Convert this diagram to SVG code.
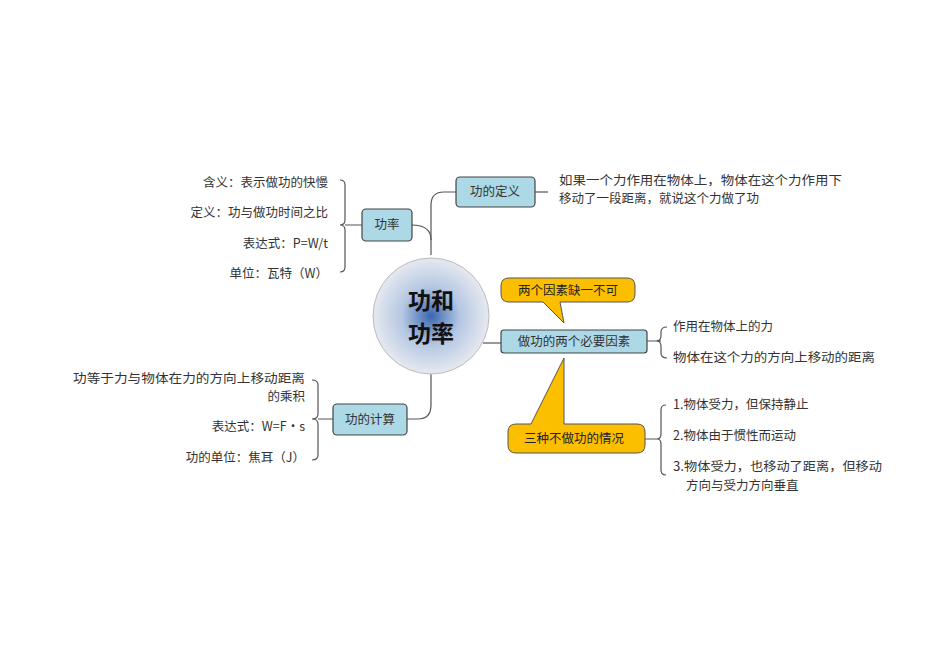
<svg xmlns="http://www.w3.org/2000/svg" width="950" height="672" viewBox="0 0 950 672">
<style>
text{font-family:"Noto Sans CJK SC","Liberation Sans",sans-serif;font-size:12.5px;fill:#333}
.box{fill:#add8e6;stroke:#444;stroke-width:1.2}
.call{fill:#fbbf00;stroke:#555;stroke-width:1}
.ln{fill:none;stroke:#555;stroke-width:1.2}
.r{text-anchor:end}
.c{text-anchor:middle}
</style>
<defs>
<radialGradient id="g" cx="0.5" cy="0.5" r="0.5">
<stop offset="0" stop-color="#3a66b0"/>
<stop offset="0.5" stop-color="#b5c7e2"/>
<stop offset="1" stop-color="#e6e9f0"/>
</radialGradient>
</defs>
<rect width="950" height="672" fill="#fff"/>
<g id="connectors">
<path class="ln" d="M431,255 V205 Q431,192 444,192 H456"/>
<path class="ln" d="M412,225 Q431,225 431,240"/>
<path class="ln" d="M431,371 V405 Q431,419 418,419 H407"/>
<path class="ln" d="M483,343 H501"/>
<path class="ln" d="M535,192 H548"/>
<path class="ln" d="M362,225 H345 M340,180 Q345,180 345,185 V220 Q345,225 340,225 Q345,225 345,230 V267 Q345,272 340,272"/>
<path class="ln" d="M333,419 H318 M312,380 Q318,380 318,385 V414 Q318,419 312,419 Q318,419 318,424 V455 Q318,460 312,460"/>
<path class="ln" d="M647,341 H661 M667,327 Q661,327 661,332 V336 Q661,341 656,341 Q661,341 661,346 V353 Q661,358 667,358"/>
<path class="ln" d="M645,439 H657 M666,405 Q661,405 661,410 V434 Q661,439 657,439 Q661,439 661,444 V470 Q661,475 666,475"/>
</g>
<g id="center">
<circle cx="431" cy="316" r="58" fill="url(#g)" stroke="#bbb"/>
<text x="431" y="309" class="c" style="font-size:23px;fill:#111;font-weight:bold">功和</text>
<text x="431" y="342" class="c" style="font-size:23px;fill:#111;font-weight:bold">功率</text>
</g>
<g id="n-gonglv"><rect class="box" x="362" y="209" width="50" height="32" rx="4"/><text x="387" y="229" class="c">功率</text></g>
<g id="n-dingyi"><rect class="box" x="456" y="177" width="79" height="30" rx="4"/><text x="495" y="196" class="c">功的定义</text>
<text x="559" y="185" textLength="283" lengthAdjust="spacingAndGlyphs">如果一个力作用在物体上，物体在这个力作用下</text>
<text x="559" y="203">移动了一段距离，就说这个力做了功</text></g>
<g id="n-yinsu"><rect class="box" x="501" y="330" width="146" height="23" rx="3"/><text x="574" y="346" class="c">做功的两个必要因素</text>
<text x="673" y="331">作用在物体上的力</text>
<text x="673" y="362" textLength="202" lengthAdjust="spacingAndGlyphs">物体在这个力的方向上移动的距离</text></g>
<g id="n-jisuan"><rect class="box" x="333" y="404" width="74" height="31" rx="4"/><text x="370" y="424" class="c">功的计算</text>
<text x="305" y="383" class="r" textLength="232" lengthAdjust="spacingAndGlyphs">功等于力与物体在力的方向上移动距离</text>
<text x="305" y="401" class="r">的乘积</text>
<text x="305" y="431" class="r">表达式：W=F·s</text>
<text x="305" y="462" class="r">功的单位：焦耳（J）</text></g>
<g id="n-gonglv-items">
<text x="328" y="187" class="r">含义：表示做功的快慢</text>
<text x="328" y="217" class="r">定义：功与做功时间之比</text>
<text x="328" y="248" class="r">表达式：P=W/t</text>
<text x="328" y="278" class="r">单位：瓦特（W）</text>
</g>
<g id="callout1">
<path class="call" d="M509,278 H627 Q635,278 635,286 V294 Q635,302 627,302 H560 L564,323 L543,302 H509 Q501,302 501,294 V286 Q501,278 509,278 Z"/>
<text x="568" y="295" class="c" style="fill:#222">两个因素缺一不可</text>
</g>
<g id="callout2">
<path class="call" d="M516,424 H531 L564,358 V424 H637 Q645,424 645,432 V445 Q645,453 637,453 H516 Q508,453 508,445 V432 Q508,424 516,424 Z"/>
<text x="574" y="443" class="c" style="fill:#222">三种不做功的情况</text>
</g>
<g id="cases">
<text x="673" y="409">1.物体受力，但保持静止</text>
<text x="673" y="440">2.物体由于惯性而运动</text>
<text x="673" y="471" textLength="209" lengthAdjust="spacingAndGlyphs">3.物体受力，也移动了距离，但移动</text>
<text x="686" y="490">方向与受力方向垂直</text>
</g>
</svg>
